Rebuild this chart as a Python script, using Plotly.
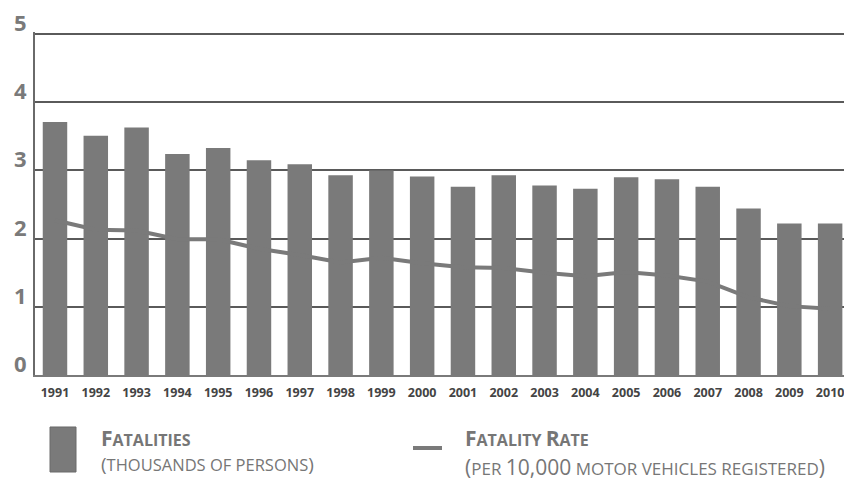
import plotly.graph_objects as go

years = [1991, 1992, 1993, 1994, 1995, 1996, 1997, 1998, 1999, 2000,
         2001, 2002, 2003, 2004, 2005, 2006, 2007, 2008, 2009, 2010]
year_labels = [str(y) for y in years]
fatalities = [3.71, 3.51, 3.63, 3.24, 3.33, 3.15, 3.09, 2.93, 3.00, 2.91,
              2.76, 2.93, 2.78, 2.73, 2.90, 2.87, 2.76, 2.44, 2.22, 2.22]
fatality_rate = [2.27, 2.13, 2.12, 1.99, 1.99, 1.85, 1.76, 1.65, 1.72, 1.64,
                 1.58, 1.57, 1.50, 1.45, 1.51, 1.46, 1.37, 1.14, 1.01, 0.97]
y_ticks = [0, 1, 2, 3, 4, 5]

GRAY = "#7a7a7a"
FONT = "Open Sans"

fig = go.Figure()
fig.add_trace(go.Scatter(x=years, y=fatality_rate, mode="lines",
                         line=dict(color=GRAY, width=4), showlegend=False,
                         hoverinfo="skip"))
fig.add_trace(go.Bar(x=years, y=fatalities, width=0.6, marker=dict(color=GRAY, line=dict(width=0)),
                     showlegend=False))

# y tick labels (sit just above their grid lines)
for v in y_ticks:
    fig.add_annotation(xref="paper", yref="y", x=0, y=v, xanchor="right", yanchor="middle",
                       xshift=-6, yshift=12, showarrow=False, text=f"<b>{v}</b>",
                       font=dict(family=FONT, size=22, color=GRAY))

# custom legend
fig.add_shape(type="rect", xref="paper", yref="paper",
              x0=15/809, x1=41/809, y0=-0.2828, y1=-0.1516,
              fillcolor=GRAY, line=dict(color="#6a6a6a", width=1))
fig.add_shape(type="line", xref="paper", yref="paper",
              x0=378/809, x1=407/809, y0=-0.2128, y1=-0.2128,
              line=dict(color=GRAY, width=4))

TXT = "#767676"
fig.add_annotation(xref="paper", yref="paper", x=64/809, y=-0.1837, xanchor="left", yanchor="middle",
                   showarrow=False, align="left",
                   text="<b>F<span style='font-size:16px'>ATALITIES</span></b>",
                   font=dict(family=FONT, size=21, color=TXT))
fig.add_annotation(xref="paper", yref="paper", x=64/809, y=-0.2609, xanchor="left", yanchor="middle",
                   showarrow=False, align="left",
                   text="(<span style='font-size:16.5px'>THOUSANDS OF PERSONS</span>)",
                   font=dict(family=FONT, size=19, color=TXT))
fig.add_annotation(xref="paper", yref="paper", x=428/809, y=-0.1851, xanchor="left", yanchor="middle",
                   showarrow=False, align="left",
                   text="<b>F<span style='font-size:16px'>ATALITY </span>R<span style='font-size:16px'>ATE</span></b>",
                   font=dict(family=FONT, size=21, color=TXT))
fig.add_annotation(xref="paper", yref="paper", x=428/809, y=-0.2682, xanchor="left", yanchor="middle",
                   showarrow=False, align="left",
                   text="(<span style='font-size:17px'>PER </span>10,000<span style='font-size:17px'> MOTOR VEHICLES REGISTERED</span>)",
                   font=dict(family=FONT, size=21, color=TXT))

fig.update_layout(
    width=844, height=483,
    margin=dict(l=35, r=0, t=32, b=108),
    paper_bgcolor="white", plot_bgcolor="white",
    xaxis=dict(range=[1990.51, 2010.34], tickvals=years, ticktext=year_labels,
               tickfont=dict(family=FONT, size=12.5, color="#444444", weight="bold"),
               ticklabeloverflow="allow",
               showgrid=False, zeroline=False, showline=True, linecolor=GRAY, linewidth=2,
               ticks="outside", ticklen=5, tickcolor="rgba(0,0,0,0)", fixedrange=True),
    yaxis=dict(range=[0, 5.03], tickvals=y_ticks, showticklabels=False,
               showgrid=True, gridcolor="#5a5a5a", gridwidth=2, zeroline=False,
               showline=True, linecolor="#6a6a6a", linewidth=2, ticks="", fixedrange=True),
    font=dict(family=FONT),
)

fig.write_html("out.html", config={"displayModeBar": False},
               post_script="document.body.style.margin='0';document.body.style.overflow='hidden';")
